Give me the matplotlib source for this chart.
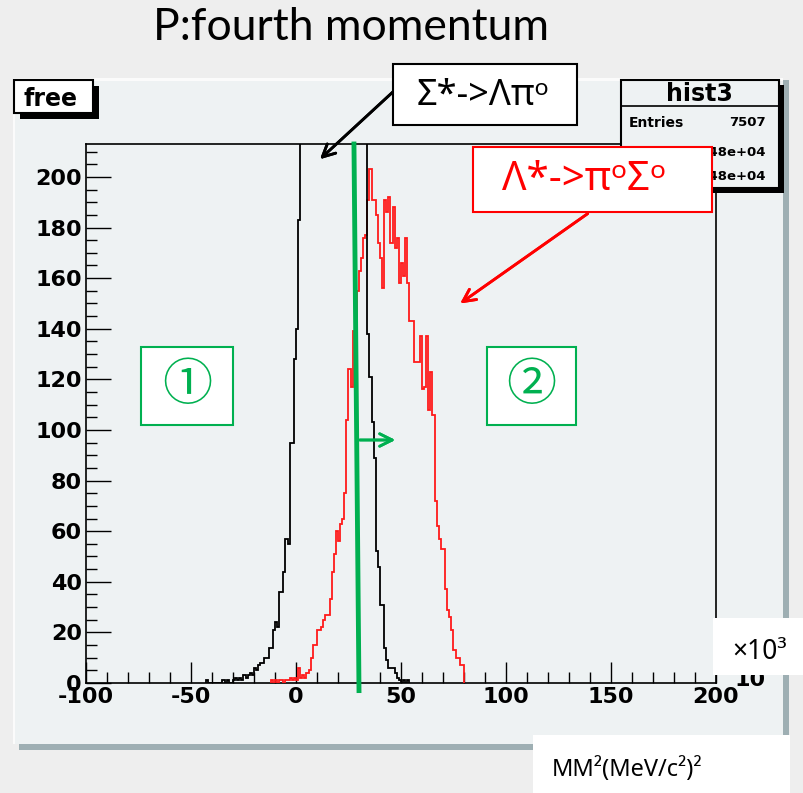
import matplotlib
matplotlib.use("Agg")
import matplotlib.pyplot as plt
import numpy as np
from matplotlib.patches import Rectangle

plt.rcParams['axes.unicode_minus'] = False

W, H = 804, 793

# counts per 1-unit bin of MM^2 (x10^3)
black_start = -43
black_counts = [1, 0, 0, 0, 0, 0, 0, 0, 1, 0, 1, 0, 0,
                1, 2, 1, 2, 1, 3, 2, 3, 4, 3, 6, 5, 7, 8, 8, 10,
                10, 14, 14, 21, 24, 22, 36, 36, 44, 57, 55, 95, 95, 128,
                140, 183, 236, 262, 290, 318, 345, 372, 396, 420, 438, 455,
                470, 482, 490, 496, 498, 495, 488, 478, 465, 450, 432, 410,
                388, 362, 336, 310, 285, 262, 240, 226, 220, 216, 138, 121,
                103, 89, 52, 46, 31, 31, 14, 9, 6, 6, 6, 4, 2, 1, 0, 1, 0, 1]

red_start = -12
red_counts = [1, 0, 1, 0, 1, 1, 0, 1, 1, 2, 1, 2,
              1, 6, 2, 3, 2, 4, 5, 10, 15, 15, 21, 21, 22, 25, 27, 27,
              33, 44, 51, 60, 56, 63, 65, 75, 104, 124, 117, 139, 139, 155,
              163, 168, 176, 177, 191, 203, 191, 191, 185, 174, 168, 156,
              191, 186, 192, 174, 188, 172, 176, 158, 166, 161, 176, 158,
              143, 143, 127, 127, 127, 137, 116, 117, 137, 108, 123, 106,
              72, 62, 57, 53, 53, 37, 29, 26, 21, 13, 10, 10, 7, 7]

cut_top, cut_bottom = 27.6, 30.0

x_major = [-100, -50, 0, 50, 100, 150, 200]
y_major = [0, 20, 40, 60, 80, 100, 120, 140, 160, 180, 200]

green = '#00b050'
pad_col = '#eef2f3'
slide_font = ['Noto Sans', 'DejaVu Sans']


def fx(px):
    return px / W


def fy(py):
    return 1 - py / H


fig = plt.figure(figsize=(W / 100, H / 100), dpi=100)
fig.patch.set_facecolor('#eeeeee')

# ROOT pad with bevel
fig.add_artist(Rectangle((fx(19), fy(750)), (789 - 19) / W, (750 - 80) / H,
                         transform=fig.transFigure, fc='#9eafb3', ec='none', zorder=0))
fig.add_artist(Rectangle((fx(13), fy(744)), (783 - 13) / W, (744 - 78) / H,
                         transform=fig.transFigure, fc='#fbfbfb', ec='none', zorder=0))
fig.add_artist(Rectangle((fx(15), fy(744)), (783 - 15) / W, (744 - 81) / H,
                         transform=fig.transFigure, fc=pad_col, ec='none', zorder=0))

ax = fig.add_axes([fx(86), fy(683), (716 - 86) / W, (683 - 144) / H])
ax.set_facecolor(pad_col)

bedges = black_start + np.arange(len(black_counts) + 1)
redges = red_start + np.arange(len(red_counts) + 1)
ax.stairs(red_counts, redges, color='#ff1a1a', lw=1.3, zorder=3)
ax.stairs(black_counts, bedges, color='black', lw=1.3, zorder=3)

ax.set_xlim(-100, 200)
ax.set_ylim(0, 213)
ax.set_xticks(x_major)
ax.set_xticks(np.arange(-100, 201, 10), minor=True)
ax.set_yticks(y_major)
ax.set_yticks(np.arange(0, 211, 5), minor=True)
ax.tick_params(which='both', direction='in', top=False, right=False, color='black')
ax.tick_params(which='major', width=1, labelsize=16, pad=3)
ax.tick_params(axis='x', which='major', length=15)
ax.tick_params(axis='y', which='major', length=18)
ax.tick_params(which='minor', length=8, width=1)
for lab in ax.get_xticklabels() + ax.get_yticklabels():
    lab.set_fontweight('bold')
    lab.set_family('DejaVu Sans')
for s in ax.spines.values():
    s.set_linewidth(1.2)

# cut line and arrow
ax.plot([cut_top, cut_bottom], [213, -3], color=green, lw=3.5, clip_on=False, zorder=5)
fig.add_artist(plt.annotate('', xy=(fx(398), fy(440)), xytext=(fx(357), fy(440)),
                            xycoords='figure fraction', textcoords='figure fraction',
                            arrowprops=dict(arrowstyle='->,head_length=0.9,head_width=0.45',
                                            color=green, lw=2)))

# title
fig.text(fx(351), fy(28), 'P:fourth momentum', ha='center', va='center',
         fontsize=32, family='Lato')


def box(x0, y0, x1, y1, fc='white', ec='black', lw=1.5, z=6, shadow=0):
    if shadow:
        fig.add_artist(Rectangle((fx(x0 + shadow), fy(y1 + shadow)), (x1 - x0) / W, (y1 - y0) / H,
                                 transform=fig.transFigure, fc='black', ec='none', zorder=z))
    fig.add_artist(Rectangle((fx(x0), fy(y1)), (x1 - x0) / W, (y1 - y0) / H,
                             transform=fig.transFigure, fc=fc, ec=ec, lw=lw, zorder=z))


# "free" label
box(14, 80, 93, 113, shadow=6)
fig.text(fx(51), fy(99), 'free', ha='center', va='center', fontsize=17,
         fontweight='bold', family='DejaVu Sans', zorder=7)

# stat box
box(621, 80, 779, 188, fc=pad_col, shadow=5)
fig.add_artist(plt.Line2D([fx(621), fx(779)], [fy(106), fy(106)],
                          transform=fig.transFigure, color='black', lw=1.2, zorder=7))
fig.text(fx(699), fy(94), 'hist3', ha='center', va='center', fontsize=17,
         fontweight='bold', family='DejaVu Sans', zorder=7)
for yy, name, val in [(123, 'Entries', '7507'), (152, 'Mean', '1.048e+04'),
                      (176, 'RMS', '1.048e+04')]:
    fig.text(fx(629), fy(yy), name, ha='left', va='center', fontsize=10,
             fontweight='bold', family='DejaVu Sans', zorder=7)
    fig.text(fx(766), fy(yy), val, ha='right', va='center', fontsize=9.5,
             fontweight='bold', family='DejaVu Sans', zorder=7)

# annotation boxes
box(393, 64, 577, 125, z=8)
fig.text(fx(483), fy(96), 'Σ*->Λπᵒ', ha='center', va='center', fontsize=26,
         family=slide_font, zorder=9)
box(473, 147, 712, 212, ec='red', z=8)
fig.text(fx(584), fy(180), 'Λ*->πᵒΣᵒ', ha='center', va='center', fontsize=29,
         color='red', family=slide_font, zorder=9)

fig.add_artist(plt.annotate('', xy=(fx(318), fy(161)), xytext=(fx(395), fy(90)),
                            xycoords='figure fraction', textcoords='figure fraction',
                            arrowprops=dict(arrowstyle='->,head_length=0.9,head_width=0.45',
                                            color='black', lw=2)))
fig.add_artist(plt.annotate('', xy=(fx(458), fy(305)), xytext=(fx(590), fy(212)),
                            xycoords='figure fraction', textcoords='figure fraction',
                            arrowprops=dict(arrowstyle='->,head_length=0.9,head_width=0.45',
                                            color='red', lw=2)))

box(141, 347, 233, 425, ec=green, z=8)
fig.text(fx(187), fy(386), '①', ha='center', va='center', fontsize=36, color=green,
         family=['Noto Sans CJK JP', 'DejaVu Sans'], zorder=9)
box(487, 347, 576, 425, ec=green, z=8)
fig.text(fx(531), fy(386), '②', ha='center', va='center', fontsize=36, color=green,
         family=['Noto Sans CJK JP', 'DejaVu Sans'], zorder=9)

# exponent remnant and slide overlays
fig.text(fx(750), fy(680), '10', ha='center', va='center', fontsize=16,
         fontweight='bold', family='DejaVu Sans', zorder=7)
box(713, 618, 804, 675, ec='none', lw=0, z=8)
fig.text(fx(760), fy(652), '×10³', ha='center', va='center', fontsize=19,
         family=slide_font, zorder=9)
box(533, 735, 790, 793, ec='none', lw=0, z=8)
fig.text(fx(552), fy(770), 'MM²(MeV/c²)²', ha='left', va='center', fontsize=17,
         family=slide_font, zorder=9)

fig.savefig('out.png', dpi=100, facecolor=fig.get_facecolor())
